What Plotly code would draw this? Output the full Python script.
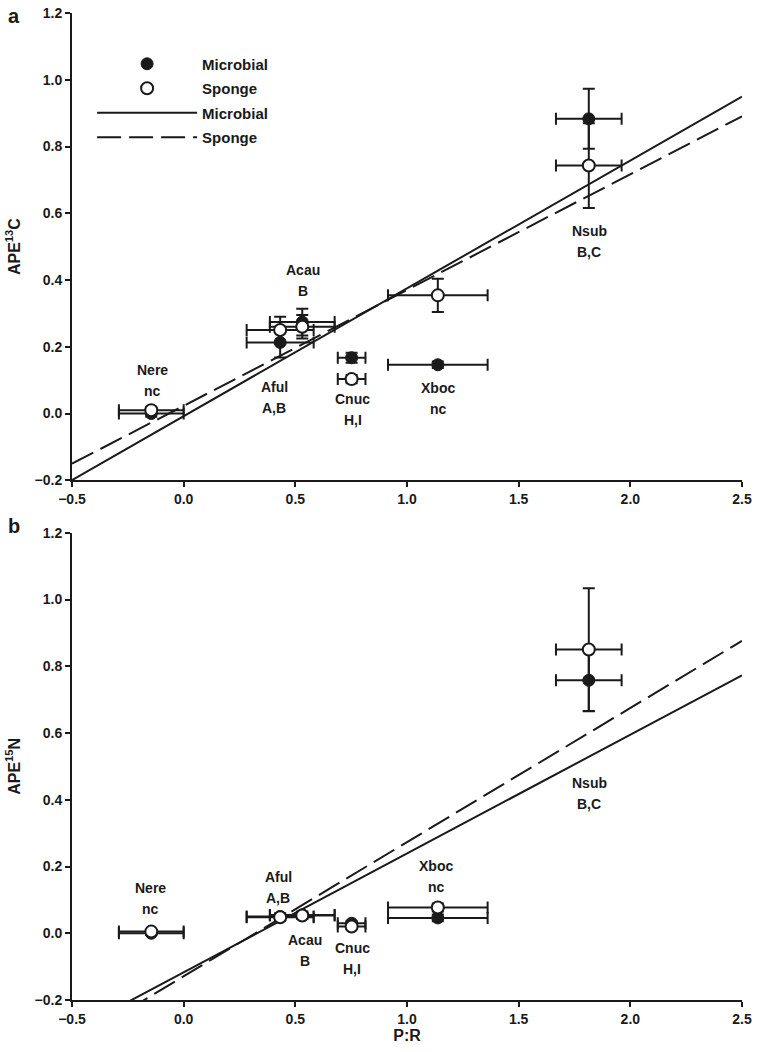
import plotly.graph_objects as go

# ---------------- data ----------------
species = ["Nere", "Aful", "Acau", "Cnuc", "Xboc", "Nsub"]
groups = ["nc", "A,B", "B", "H,I", "nc", "B,C"]

pr = [-0.145, 0.432, 0.531, 0.752, 1.138, 1.814]
pr_err = [0.145, 0.150, 0.145, 0.062, 0.223, 0.147]

c13_mic = [0.000, 0.213, 0.274, 0.167, 0.146, 0.883]
c13_mic_err = [0.010, 0.045, 0.040, 0.015, 0.010, 0.090]
c13_spo = [0.010, 0.250, 0.260, 0.103, 0.354, 0.743]
c13_spo_err = [0.010, 0.040, 0.035, 0.012, 0.050, 0.127]

n15_mic = [0.000, 0.050, 0.055, 0.030, 0.046, 0.758]
n15_mic_err = [0.005, 0.010, 0.010, 0.006, 0.010, 0.093]
n15_spo = [0.005, 0.048, 0.053, 0.020, 0.077, 0.850]
n15_spo_err = [0.005, 0.010, 0.010, 0.008, 0.012, 0.184]

# regression fits (slope, intercept)
fit_c13_mic = (0.383, -0.008)
fit_c13_spo = (0.347, 0.023)
fit_n15_mic = (0.356, -0.117)
fit_n15_spo = (0.402, -0.129)
fit_x = [-0.5, 2.5]

# label anchor positions (data coords)
lab_a_x = [-0.14, 0.405, 0.536, 0.757, 1.14, 1.815]
lab_a_y = [0.10, 0.05, 0.40, 0.012, 0.045, 0.517]
lab_b_x = [-0.148, 0.423, 0.543, 0.754, 1.13, 1.815]
lab_b_y = [0.107, 0.139, -0.05, -0.075, 0.171, 0.421]

x_ticks = [-0.5, 0.0, 0.5, 1.0, 1.5, 2.0, 2.5]
y_ticks = [-0.2, 0.0, 0.2, 0.4, 0.6, 0.8, 1.0, 1.2]

# ---------------- styling ----------------
FONT = "Liberation Sans, Arial, sans-serif"
BLACK = "#1a1a1a"


def eb(arr):
    return dict(type="data", array=arr, color=BLACK, thickness=2, width=6)


fig = go.Figure()

for xa, ya, fm, fs, show in [("x", "y", fit_c13_mic, fit_c13_spo, True),
                               ("x2", "y2", fit_n15_mic, fit_n15_spo, False)]:
    fig.add_trace(go.Scatter(
        x=fit_x, y=[fm[0] * v + fm[1] for v in fit_x], mode="lines",
        line=dict(color=BLACK, width=2), name="Microbial", legendgroup="g3",
        xaxis=xa, yaxis=ya, showlegend=show, legendrank=3))
    fig.add_trace(go.Scatter(
        x=fit_x, y=[fs[0] * v + fs[1] for v in fit_x], mode="lines",
        line=dict(color=BLACK, width=2, dash="24px,8px"), name="Sponge", legendgroup="g4",
        xaxis=xa, yaxis=ya, showlegend=show, legendrank=4))

for xa, ya, ym, yme, ys, yse, show in [
        ("x", "y", c13_mic, c13_mic_err, c13_spo, c13_spo_err, True),
        ("x2", "y2", n15_mic, n15_mic_err, n15_spo, n15_spo_err, False)]:
    fig.add_trace(go.Scatter(
        x=pr, y=ym, mode="markers", name="Microbial", legendgroup="g1",
        marker=dict(color=BLACK, size=12, line=dict(color=BLACK, width=1)),
        error_x=eb(pr_err), error_y=eb(yme),
        xaxis=xa, yaxis=ya, showlegend=show, legendrank=1))
    fig.add_trace(go.Scatter(
        x=pr, y=ys, mode="markers", name="Sponge", legendgroup="g2",
        marker=dict(color="white", size=12, line=dict(color=BLACK, width=2)),
        error_x=eb(pr_err), error_y=eb(yse),
        xaxis=xa, yaxis=ya, showlegend=show, legendrank=2))

lab_font = dict(size=14, color=BLACK, family=FONT, weight="bold")
annotations = []
for xr, yr, lx, ly in [("x", "y", lab_a_x, lab_a_y), ("x2", "y2", lab_b_x, lab_b_y)]:
    for name, grp, x, y in zip(species, groups, lx, ly):
        annotations.append(dict(x=x, y=y, xref=xr, yref=yr, text=name, showarrow=False,
                                yshift=10, font=lab_font))
        annotations.append(dict(x=x, y=y, xref=xr, yref=yr, text=grp, showarrow=False,
                                yshift=-11, font=lab_font))

annotations.append(dict(x=-0.098, y=0.997, xref="paper", yref="paper", text="a", showarrow=False,
                        xanchor="left", yanchor="middle",
                        font=dict(size=20, color=BLACK, family=FONT, weight="bold")))
annotations.append(dict(x=-0.098, y=0.480, xref="paper", yref="paper", text="b", showarrow=False,
                        xanchor="left", yanchor="middle",
                        font=dict(size=20, color=BLACK, family=FONT, weight="bold")))

axis_common = dict(showgrid=False, zeroline=False, showline=True, linecolor=BLACK, linewidth=2,
                   ticks="outside", ticklen=5, tickwidth=2, tickcolor=BLACK,
                   tickfont=dict(size=14, color=BLACK, family=FONT, weight="bold"),
                   tickformat=".1f")
title_font = dict(size=16, color=BLACK, family=FONT, weight="bold")

fig.update_layout(
    width=757, height=1052,
    margin=dict(l=72, r=12, t=5, b=52),
    paper_bgcolor="white", plot_bgcolor="white",
    font=dict(family=FONT, color=BLACK),
    xaxis=dict(axis_common, domain=[0, 1], range=[-0.5, 2.5], tickvals=x_ticks, anchor="y"),
    yaxis=dict(axis_common, domain=[0.5266, 1.0], range=[-0.2, 1.2], tickvals=y_ticks, anchor="x",
               title=dict(text="APE<sup>13</sup>C", font=title_font, standoff=10)),
    xaxis2=dict(axis_common, domain=[0, 1], range=[-0.5, 2.5], tickvals=x_ticks, anchor="y2",
                title=dict(text="P:R", font=title_font, standoff=2)),
    yaxis2=dict(axis_common, domain=[0.0, 0.4734], range=[-0.2, 1.2], tickvals=y_ticks, anchor="x2",
                title=dict(text="APE<sup>15</sup>N", font=title_font, standoff=10)),
    legend=dict(x=0.03, y=0.965, xanchor="left", yanchor="top", xref="paper", yref="paper",
                itemwidth=100, bgcolor="rgba(0,0,0,0)",
                font=dict(size=15, color=BLACK, family=FONT, weight="bold"),
                tracegroupgap=2),
    annotations=annotations,
    showlegend=True,
)

fig.write_html("out.html", config={"displayModeBar": False},
               post_script="document.body.style.margin='0';")
